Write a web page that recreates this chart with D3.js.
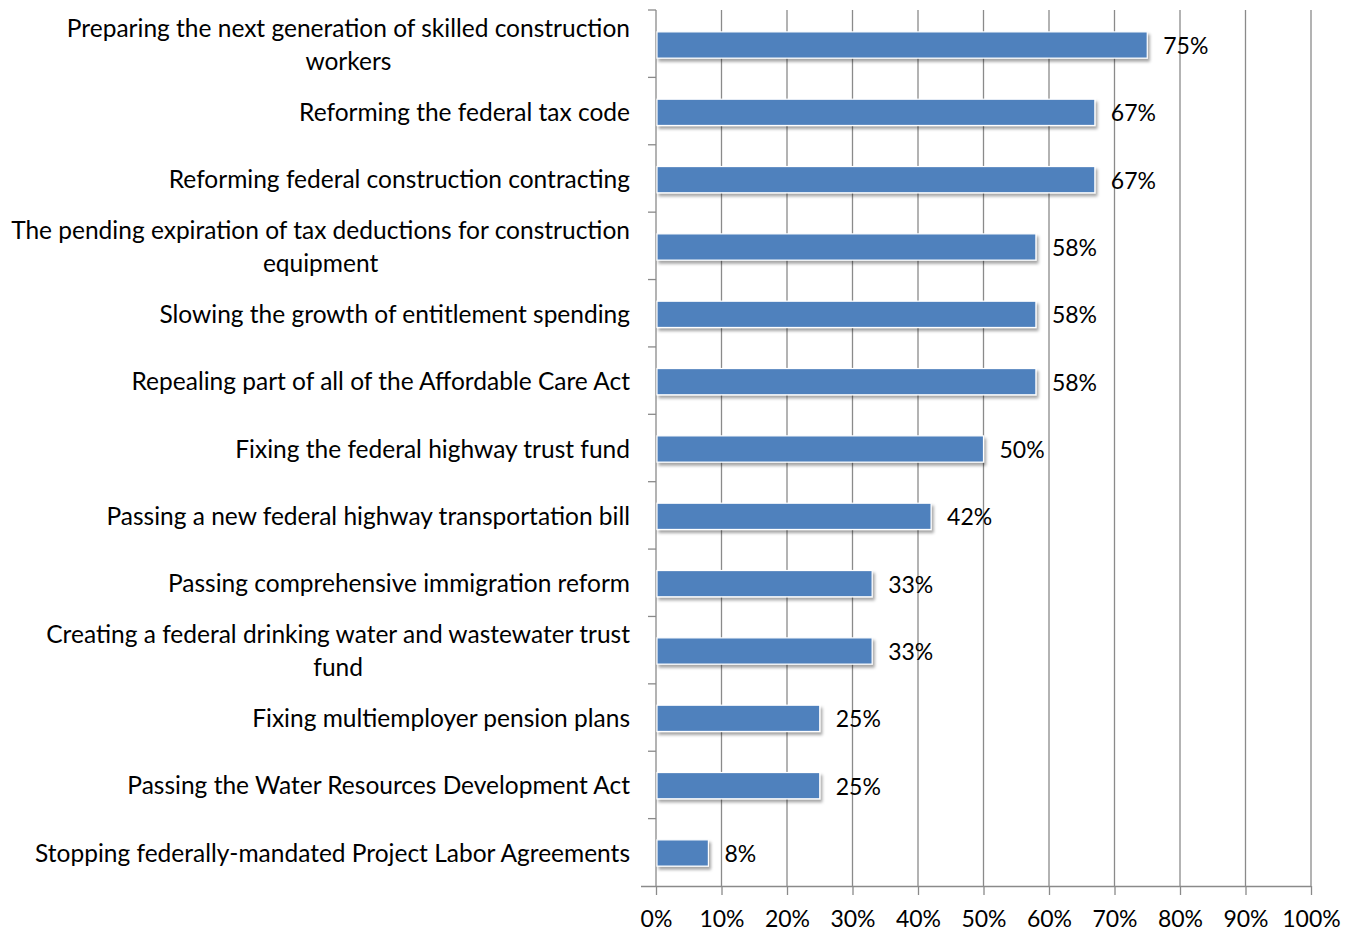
<!DOCTYPE html>
<html>
<head>
<meta charset="utf-8">
<script src="https://cdn.jsdelivr.net/npm/d3@7"></script>
<style>
  html, body { margin: 0; padding: 0; background: #fff; }
  svg text { font-family: Lato, "Open Sans", sans-serif; fill: #000; }
</style>
</head>
<body>
<svg id="chart" width="1352" height="931"></svg>
<script>
// Priorities, top to bottom; "\n" marks where a long label wraps
const categories = [
  "Preparing the next generation of skilled construction\nworkers",
  "Reforming the federal tax code",
  "Reforming federal construction contracting",
  "The pending expiration of tax deductions for construction\nequipment",
  "Slowing the growth of entitlement spending",
  "Repealing part of all of the Affordable Care Act",
  "Fixing the federal highway trust fund",
  "Passing a new federal highway transportation bill",
  "Passing comprehensive immigration reform",
  "Creating a federal drinking water and wastewater trust\nfund",
  "Fixing multiemployer pension plans",
  "Passing the Water Resources Development Act",
  "Stopping federally-mandated Project Labor Agreements"
];
const values = [75, 67, 67, 58, 58, 58, 50, 42, 33, 33, 25, 25, 8];
const xTicks = [0, 10, 20, 30, 40, 50, 60, 70, 80, 90, 100];

const svg = d3.select("#chart");
const plotLeft = 656, plotRight = 1311, plotTop = 10, plotBottom = 886;
const labelSize = 24.5, numberSize = 23;

const x = d3.scaleLinear().domain([0, 100]).range([plotLeft, plotRight]);
const y = d3.scaleBand().domain(categories).range([plotTop, plotBottom]).paddingInner(0.61).paddingOuter(0.31);
const yOuter = d3.scaleBand().domain(categories).range([plotTop, plotBottom]);

// drop shadow under the bars
const defs = svg.append("defs");
const f = defs.append("filter").attr("id", "shadow")
  .attr("x", "-5%").attr("y", "-30%").attr("width", "115%").attr("height", "180%");
f.append("feGaussianBlur").attr("in", "SourceAlpha").attr("stdDeviation", 1.6).attr("result", "b");
f.append("feOffset").attr("in", "b").attr("dx", 2).attr("dy", 3).attr("result", "o");
f.append("feFlood").attr("flood-color", "#000").attr("flood-opacity", 0.35).attr("result", "c");
f.append("feComposite").attr("in", "c").attr("in2", "o").attr("operator", "in").attr("result", "s");
const m = f.append("feMerge");
m.append("feMergeNode").attr("in", "s");
m.append("feMergeNode").attr("in", "SourceGraphic");

// vertical gridlines
svg.append("g").selectAll("line").data(xTicks.filter(d => d > 0)).join("line")
  .attr("x1", d => x(d)).attr("x2", d => x(d))
  .attr("y1", plotTop).attr("y2", plotBottom)
  .attr("stroke", "#8a8a8a").attr("stroke-width", 1.3);

// x axis
const xAxis = d3.axisBottom(x).tickValues(xTicks).tickFormat(d => d + "%").tickSize(9).tickPadding(16);
const gx = svg.append("g").attr("transform", `translate(0,${plotBottom})`).call(xAxis);
gx.select(".domain").attr("stroke", "#8a8a8a").attr("stroke-width", 1.3).attr("d", `M${plotLeft - 15},0.5H${plotRight}`);
gx.selectAll(".tick line").attr("stroke", "#8a8a8a").attr("stroke-width", 1.3);
gx.selectAll(".tick text").attr("font-size", numberSize).attr("font-family", null).attr("fill", "#000");

// y axis line and category boundary ticks
svg.append("line").attr("x1", plotLeft).attr("x2", plotLeft).attr("y1", plotTop).attr("y2", plotBottom)
  .attr("stroke", "#8a8a8a").attr("stroke-width", 1.3);
const bounds = categories.map(c => yOuter(c));
svg.append("g").selectAll("line").data(bounds).join("line")
  .attr("x1", plotLeft - 8).attr("x2", plotLeft).attr("y1", d => d).attr("y2", d => d)
  .attr("stroke", "#8a8a8a").attr("stroke-width", 1.3);

// bars
svg.append("g").selectAll("rect").data(values).join("rect")
  .attr("x", x(0) + 1)
  .attr("y", (d, i) => y(categories[i]) + 1)
  .attr("width", d => x(d) - x(0) - 1)
  .attr("height", y.bandwidth())
  .attr("fill", "#4f81bd")
  .attr("stroke", "#ffffff").attr("stroke-width", 1.2)
  .attr("filter", "url(#shadow)");

// value labels
svg.append("g").selectAll("text").data(values).join("text")
  .attr("x", d => x(d) + 16)
  .attr("y", (d, i) => y(categories[i]) + y.bandwidth() / 2 + 2)
  .attr("dy", "0.35em")
  .attr("font-size", numberSize)
  .text(d => d + "%");

// category labels: right-aligned block, wrapped lines centred within it
const labelRight = 630, lineGap = 33;
categories.forEach(c => {
  const lines = c.split("\n");
  const cy = yOuter(c) + yOuter.bandwidth() / 2 + 1;
  const g = svg.append("g");
  const texts = lines.map((ln, k) => g.append("text")
    .attr("font-size", labelSize)
    .attr("y", cy + (k - (lines.length - 1) / 2) * lineGap)
    .attr("dy", "0.35em")
    .text(ln));
  const widths = texts.map(t => t.node().getComputedTextLength());
  const maxW = d3.max(widths);
  texts.forEach(t => t.attr("x", labelRight - maxW / 2).attr("text-anchor", "middle"));
});
</script>
</body>
</html>
